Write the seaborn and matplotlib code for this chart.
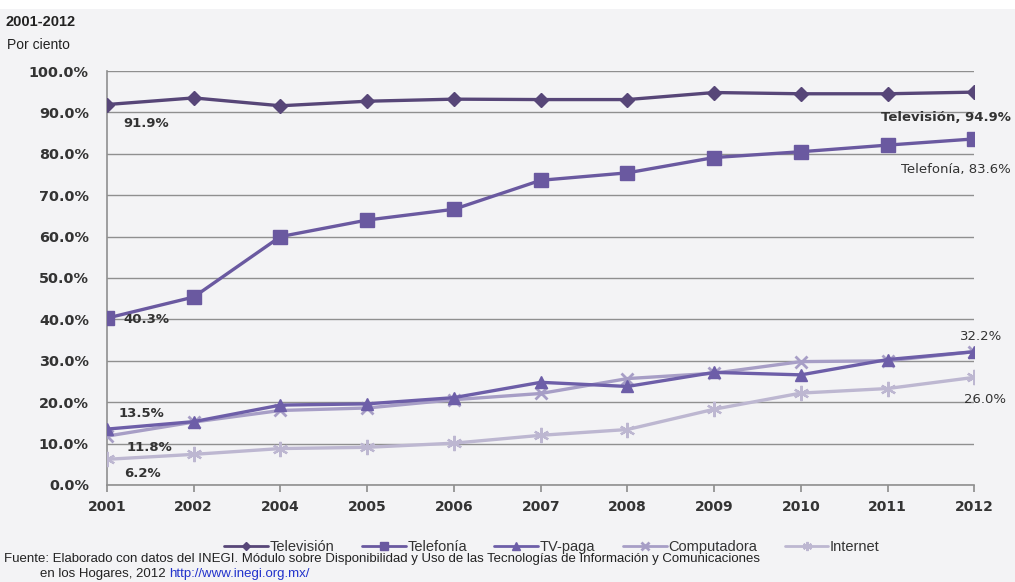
import matplotlib
matplotlib.use("Agg")
import matplotlib.pyplot as plt
import matplotlib.patches as mpatches
from matplotlib.text import Annotation
import seaborn as sns
import pandas as pd

years = ["2001", "2002", "2004", "2005", "2006", "2007", "2008", "2009", "2010", "2011", "2012"]
television = [91.9, 93.5, 91.6, 92.7, 93.2, 93.1, 93.1, 94.8, 94.5, 94.5, 94.9]
telefonia = [40.3, 45.4, 60.0, 64.0, 66.6, 73.6, 75.4, 79.1, 80.5, 82.1, 83.6]
tv_paga = [13.5, 15.3, 19.3, 19.6, 21.1, 24.8, 23.8, 27.2, 26.6, 30.3, 32.2]
computadora = [11.8, 15.2, 18.0, 18.6, 20.6, 22.1, 25.7, 27.0, 29.8, 30.0, 32.2]
internet = [6.2, 7.4, 8.8, 9.1, 10.1, 12.0, 13.4, 18.3, 22.2, 23.3, 26.0]
series_names = ["Televisión", "Telefonía", "TV-paga", "Computadora", "Internet"]
yticks = [0, 10, 20, 30, 40, 50, 60, 70, 80, 90, 100]

sns.set_theme(style="white")
plt.rcParams["font.family"] = ["DejaVu Sans"]

bg = "#f3f3f5"
fig = plt.figure(figsize=(10.15, 5.82), dpi=100, facecolor=bg)
ax = fig.add_axes([0.1054, 0.1667, 0.8546, 0.7113])
ax.set_facecolor(bg)

values = [television, telefonia, tv_paga, computadora, internet]
colors = ["#574678", "#6a59a0", "#6d5ea8", "#a79ec6", "#bdb7d1"]
markers = ["D", "s", "^", "x", (6, 2, 0)]
msizes = [7, 10, 9, 9, 11]
mews = [1, 1, 1, 2, 1.6]

rows = []
for name, vals in zip(series_names, values):
    for i, (yr, v) in enumerate(zip(years, vals)):
        rows.append({"serie": name, "pos": i, "year": yr, "valor": v})
df = pd.DataFrame(rows)

# draw lighter series first
for name, col, mk, ms, mew in reversed(list(zip(series_names, colors, markers, msizes, mews))):
    sub = df[df["serie"] == name]
    sns.lineplot(data=sub, x="pos", y="valor", ax=ax, color=col, marker=mk,
                 markersize=ms, markeredgecolor=col, markeredgewidth=mew,
                 linewidth=2.4, label=name, zorder=3)

ax.set_xlim(0, len(years) - 1)
ax.set_ylim(0, 100)
ax.set_xticks(range(len(years)))
ax.set_xticklabels(years, fontsize=10, fontweight="bold", color="#333333")
ax.set_yticks(yticks)
ax.set_yticklabels([f"{v:.1f}%" for v in yticks], fontsize=10.4, fontweight="bold", color="#333333")
ax.set_xlabel("")
ax.set_ylabel("")
ax.grid(axis="y", color="#8f8f8f", linewidth=1.0)
ax.grid(axis="x", visible=False)
for s in ["top", "right"]:
    ax.spines[s].set_visible(False)
for s in ["left", "bottom"]:
    ax.spines[s].set_color("#8f8f8f")
    ax.spines[s].set_linewidth(1.2)
ax.tick_params(axis="x", bottom=True, length=5, color="#8f8f8f", pad=6)
ax.tick_params(axis="y", left=False, pad=7)

# annotations
lab_kw = dict(fontsize=9.5, fontweight="bold", color="#333333", textcoords="offset points")
ax.annotate(f"{television[0]:.1f}%", xy=(0, television[0]), xytext=(12, -14), ha="left", va="center", **lab_kw)
ax.annotate(f"{telefonia[0]:.1f}%", xy=(0, telefonia[0]), xytext=(12, -1), ha="left", va="center", **lab_kw)
ax.annotate(f"{tv_paga[0]:.1f}%", xy=(0, tv_paga[0]), xytext=(8, 11), ha="left", va="center", **lab_kw)
ax.annotate(f"{computadora[0]:.1f}%", xy=(0, computadora[0]), xytext=(14, -8), ha="left", va="center", **lab_kw)
ax.annotate(f"{internet[0]:.1f}%", xy=(0, internet[0]), xytext=(12, -10), ha="left", va="center", **lab_kw)
n = len(years) - 1
ax.annotate(f"{series_names[0]}, {television[n]:.1f}%", xy=(n, television[n]), xytext=(26, -18), ha="right", va="center", annotation_clip=False, **lab_kw)
ax.annotate(f"{series_names[1]}, {telefonia[n]:.1f}%", xy=(n, telefonia[n]), xytext=(26, -22), ha="right", va="center", annotation_clip=False,
            **{**lab_kw, "fontweight": "normal"})
ax.annotate(f"{tv_paga[n]:.1f}%", xy=(n, tv_paga[n]), xytext=(20, 11), ha="right", va="center", annotation_clip=False,
            **{**lab_kw, "fontweight": "normal"})
ax.annotate(f"{internet[n]:.1f}%", xy=(n, internet[n]), xytext=(23, -16), ha="right", va="center", annotation_clip=False,
            **{**lab_kw, "fontweight": "normal"})

# legend
handles, labels = ax.get_legend_handles_labels()
order = [labels.index(nm) for nm in series_names]
leg = ax.legend([handles[i] for i in order], [labels[i] for i in order],
                loc="center", bbox_to_anchor=(0.513, -0.149), ncol=5, frameon=False,
                handlelength=3.0, handletextpad=0.1, columnspacing=1.9, markerscale=0.6,
                prop={"family": ["Liberation Sans", "DejaVu Sans"], "size": 10.5})
for t in leg.get_texts():
    t.set_color("#333333")
for h in leg.legend_handles:
    h.set_linewidth(2.0)

# titles
fam = ["Liberation Sans", "DejaVu Sans"]
fig.text(0.005, 0.962, "2001-2012", fontsize=10.5, fontweight="bold", color="#222222",
         family=fam, ha="left", va="center")
fig.text(0.007, 0.922, "Por ciento", fontsize=10, color="#222222",
         family=fam, ha="left", va="center")

# source
fig.text(0.004, 0.040, "Fuente: Elaborado con datos del INEGI. Módulo sobre Disponibilidad y Uso de las Tecnologías de Información y Comunicaciones",
         fontsize=9.5, color="#222222", family=fam, ha="left", va="center")
t2 = fig.text(0.039, 0.014, "en los Hogares, 2012 ", fontsize=9.5, color="#222222",
              family=fam, ha="left", va="center")
fig.add_artist(Annotation("http://www.inegi.org.mx/", xy=(1.0, 0.0), xycoords=t2,
                          xytext=(0, 0), textcoords="offset points",
                          ha="left", va="bottom", fontsize=9.5, color="#2233cc", family=fam))

# white strip at top like the cropped original
fig.patches.append(mpatches.Rectangle((0, 0.985), 1, 0.015, transform=fig.transFigure,
                                      facecolor="white", edgecolor="none"))

fig.savefig("out.png", dpi=100, facecolor=bg)
